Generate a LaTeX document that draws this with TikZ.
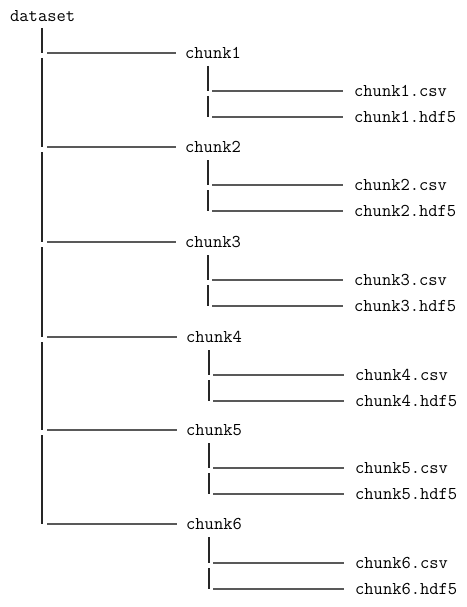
\documentclass[tikz,border=0pt]{standalone}
\usepackage{tikz}
\usetikzlibrary{positioning}

\tikzset{
  entry/.style={anchor=west,inner sep=0pt,font=\fontsize{18}{20}\selectfont\ttfamily},
  branch/.style={line width=1.1pt,draw=black!65},
  spine/.style={line width=1.1pt,draw=black!85}
}

\begin{document}
\begin{tikzpicture}[x=1pt,y=-1pt]
\useasboundingbox (0,0) rectangle (466,607);

% root
\node[entry] (dataset) at (10,16) {dataset};

% chunk1 = (185,53)
\node[entry] (chunk1) at (185,53) {chunk1};
\node[entry] (chunk1csv) at (354,91) {chunk1.csv};
\node[entry] (chunk1hdf) at (354,117) {chunk1.hdf5};
\draw[spine] (42,28) -- (42,53);
\draw[branch] (47,53) -- ([xshift=-9pt]chunk1.west);
\draw[spine] (208,66) -- (208,91);
\draw[branch] (212,91) -- ([xshift=-11pt]chunk1csv.west);
\draw[spine] (208,96) -- (208,117);
\draw[branch] (212,117) -- ([xshift=-11pt]chunk1hdf.west);

% chunk2 = (185,147)
\node[entry] (chunk2) at (185,147) {chunk2};
\node[entry] (chunk2csv) at (354,185) {chunk2.csv};
\node[entry] (chunk2hdf) at (354,211) {chunk2.hdf5};
\draw[spine] (42,58) -- (42,147);
\draw[branch] (47,147) -- ([xshift=-9pt]chunk2.west);
\draw[spine] (208,160) -- (208,185);
\draw[branch] (212,185) -- ([xshift=-11pt]chunk2csv.west);
\draw[spine] (208,190) -- (208,211);
\draw[branch] (212,211) -- ([xshift=-11pt]chunk2hdf.west);

% chunk3 = (185,242)
\node[entry] (chunk3) at (185,242) {chunk3};
\node[entry] (chunk3csv) at (354,280) {chunk3.csv};
\node[entry] (chunk3hdf) at (354,306) {chunk3.hdf5};
\draw[spine] (42,152) -- (42,242);
\draw[branch] (47,242) -- ([xshift=-9pt]chunk3.west);
\draw[spine] (208,255) -- (208,280);
\draw[branch] (212,280) -- ([xshift=-11pt]chunk3csv.west);
\draw[spine] (208,285) -- (208,306);
\draw[branch] (212,306) -- ([xshift=-11pt]chunk3hdf.west);

% chunk4 = (186,337)
\node[entry] (chunk4) at (186,337) {chunk4};
\node[entry] (chunk4csv) at (355,375) {chunk4.csv};
\node[entry] (chunk4hdf) at (355,401) {chunk4.hdf5};
\draw[spine] (42,247) -- (42,337);
\draw[branch] (47,337) -- ([xshift=-9pt]chunk4.west);
\draw[spine] (209,350) -- (209,375);
\draw[branch] (213,375) -- ([xshift=-11pt]chunk4csv.west);
\draw[spine] (209,380) -- (209,401);
\draw[branch] (213,401) -- ([xshift=-11pt]chunk4hdf.west);

% chunk5 = (186,430)
\node[entry] (chunk5) at (186,430) {chunk5};
\node[entry] (chunk5csv) at (355,468) {chunk5.csv};
\node[entry] (chunk5hdf) at (355,494) {chunk5.hdf5};
\draw[spine] (42,342) -- (42,430);
\draw[branch] (47,430) -- ([xshift=-9pt]chunk5.west);
\draw[spine] (209,443) -- (209,468);
\draw[branch] (213,468) -- ([xshift=-11pt]chunk5csv.west);
\draw[spine] (209,473) -- (209,494);
\draw[branch] (213,494) -- ([xshift=-11pt]chunk5hdf.west);

% chunk6 = (186,524)
\node[entry] (chunk6) at (186,524) {chunk6};
\node[entry] (chunk6csv) at (355,563) {chunk6.csv};
\node[entry] (chunk6hdf) at (355,589) {chunk6.hdf5};
\draw[spine] (42,435) -- (42,524);
\draw[branch] (47,524) -- ([xshift=-9pt]chunk6.west);
\draw[spine] (209,537) -- (209,563);
\draw[branch] (213,563) -- ([xshift=-11pt]chunk6csv.west);
\draw[spine] (209,568) -- (209,589);
\draw[branch] (213,589) -- ([xshift=-11pt]chunk6hdf.west);

\end{tikzpicture}
\end{document}
